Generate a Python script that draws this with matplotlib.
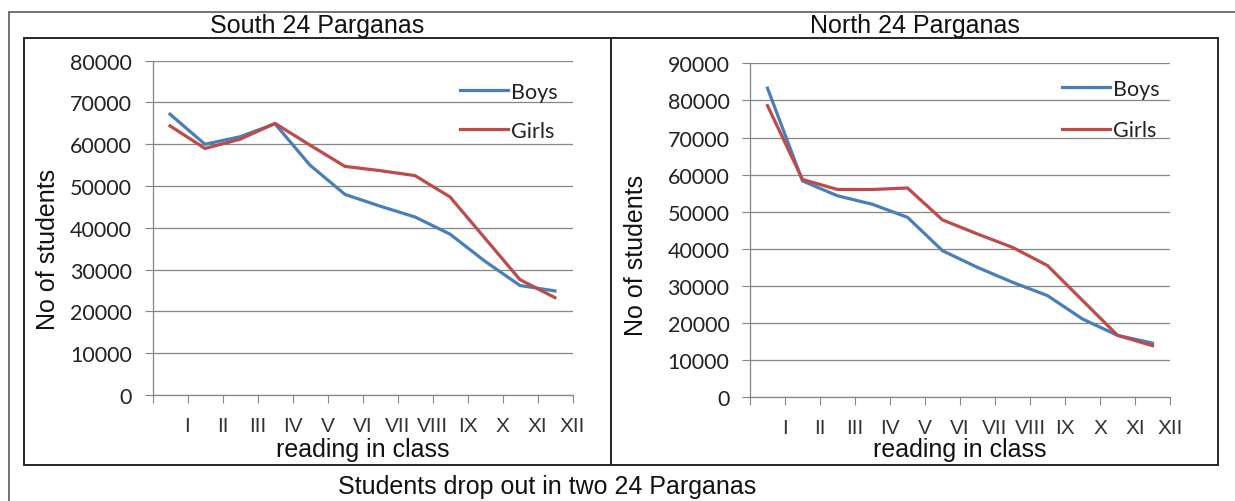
import matplotlib
matplotlib.use("Agg")
import matplotlib.pyplot as plt
from matplotlib.patches import Rectangle
import numpy as np

classes = ["I", "II", "III", "IV", "V", "VI", "VII", "VIII", "IX", "X", "XI", "XII"]

south_boys = [67200, 60000, 61800, 64900, 55000, 48000, 45200, 42600, 38500, 32000, 26200, 24900]
south_girls = [64400, 59000, 61200, 65000, 59800, 54700, 53700, 52500, 47400, 37500, 27600, 23300]

north_boys = [83300, 58300, 54300, 52000, 48500, 39500, 35000, 31000, 27400, 21100, 16700, 14600]
north_girls = [78600, 58700, 56000, 56000, 56400, 47800, 44000, 40400, 35500, 26100, 16700, 13900]

W, H = 1235, 502
BOYS = "#4A7EBB"
GIRLS = "#BE4B48"
GRID = "#868686"
ARIAL = "Liberation Sans"
CALIBRI = "Lato"


def fx(x):
    return x / W


def fy(y):
    return 1 - y / H


fig = plt.figure(figsize=(W / 100, H / 100), dpi=100)
fig.patch.set_facecolor("white")

# frames
fig.patches.append(Rectangle((fx(9.3), fy(520)), fx(1300), fy(13.3) - fy(520),
                             transform=fig.transFigure, fill=False,
                             edgecolor="#5a5a5a", lw=1.2))
for x0, x1 in [(24, 611), (611, 1218)]:
    fig.patches.append(Rectangle((fx(x0), fy(466)), fx(x1) - fx(x0), fy(39.3) - fy(466),
                                 transform=fig.transFigure, fill=False,
                                 edgecolor="#262626", lw=1.4))


def draw(rect, boys, girls, ymax, title, tcx, ylab_x, ylab_y, leg_anchor, leg_space, xlab_y):
    ax = fig.add_axes(rect)
    x = np.arange(len(classes)) + 0.5
    ax.plot(x, boys, color=BOYS, lw=2.3, label="Boys", solid_joinstyle="round")
    ax.plot(x, girls, color=GIRLS, lw=2.3, label="Girls", solid_joinstyle="round")
    ax.set_xlim(0, len(classes))
    ax.set_ylim(0, ymax)
    ax.set_yticks(np.arange(0, ymax + 1, 10000))
    ax.set_xticks(np.arange(len(classes) + 1))
    ax.set_xticklabels([""] + classes, fontfamily=ARIAL, fontsize=15, color="#333333")
    for lab in ax.get_yticklabels():
        lab.set_fontfamily(CALIBRI)
        lab.set_fontsize(15.5)
        lab.set_color("#222222")
    ax.tick_params(axis="both", direction="out", length=5.8, width=0.8, color=GRID, pad=9)
    ax.grid(axis="y", color=GRID, lw=0.9)
    ax.set_axisbelow(True)
    for s in ["top", "right"]:
        ax.spines[s].set_visible(False)
    for s in ["left", "bottom"]:
        ax.spines[s].set_color(GRID)
        ax.spines[s].set_linewidth(0.9)
    ax.set_xlabel("reading in class", fontfamily=ARIAL, fontsize=18, color="#111111")
    ax.xaxis.set_label_coords(0.5, xlab_y)
    leg = ax.legend(loc="upper left", bbox_to_anchor=leg_anchor, frameon=False,
                    prop={"family": CALIBRI, "size": 15.5}, handlelength=2.25,
                    handletextpad=0.1, borderpad=0, borderaxespad=0, labelspacing=leg_space)
    for t in leg.get_texts():
        t.set_color("#222222")
    fig.text(fx(tcx), fy(33), title, ha="center", va="baseline",
             fontfamily=ARIAL, fontsize=18, color="#111111")
    fig.text(fx(ylab_x), fy(ylab_y), "No of students", rotation=90, ha="center",
             va="center", fontfamily=ARIAL, fontsize=18, color="#111111")
    return ax


draw([fx(152.5), fy(396), 420 / W, 334.3 / H], south_boys, south_girls, 80000,
     "South 24 Parganas", 317.5, 48, 249, (0.732, 0.937), 0.88, -0.125)
draw([fx(750), fy(398.3), 420 / W, 334 / H], north_boys, north_girls, 90000,
     "North 24 Parganas", 914.5, 636, 255, (0.743, 0.953), 0.98, -0.118)

fig.text(fx(547), fy(494), "Students drop out in two 24 Parganas", ha="center",
         va="baseline", fontfamily=ARIAL, fontsize=18, color="#111111")

fig.savefig("out.png", dpi=100, facecolor="white")
